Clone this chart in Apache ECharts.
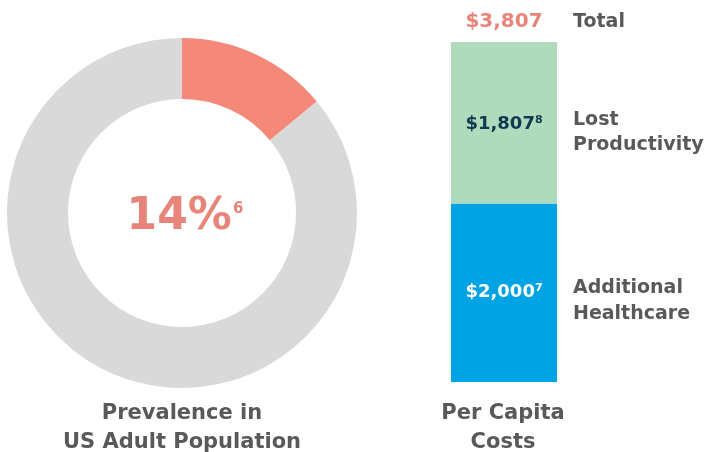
<!DOCTYPE html>
<html>
<head>
<meta charset="utf-8">
<title>Prevalence and Per Capita Costs</title>
<script src="https://cdn.jsdelivr.net/npm/echarts@6/dist/echarts.min.js"></script>
<style>
body{margin:0;background:#fff;}
#chart{width:708px;height:452px;}
</style>
</head>
<body>
<div id="chart"></div>
<script>

// donut
const prevalence = 14
const prevalenceRef = "6"
const prevalenceTitle = "Prevalence in\nUS Adult Population"

// stacked bar, bottom to top
const costNames = ["Additional\nHealthcare", "Lost\nProductivity"]
const costValues = [2000, 1807]
const costRefs = ["7", "8"]
const costTitle = "Per Capita\nCosts"
const totalName = "Total"

const font = "DejaVu Sans"
const grey = "#58595b"
const pink = "#f4897a"
const pinkText = "#e8857a"

const total = costValues.reduce((a,b)=>a+b,0)
const fmt = v => "$" + v.toLocaleString("en-US")

const chart = echarts.init(document.getElementById("chart"))

chart.setOption({
  animation:false,
  textStyle:{fontFamily:font},
  grid:{left:451,width:106,top:42,bottom:70},
  xAxis:{type:"category",data:["cost"],show:false},
  yAxis:{type:"value",min:0,max:total,show:false},
  series:[
    {
      type:"pie",
      center:[182,213],
      radius:[114,175],
      startAngle:90,
      clockwise:true,
      silent:true,
      label:{show:false},
      data:[
        {value:prevalence,itemStyle:{color:pink}},
        {value:100-prevalence,itemStyle:{color:"#d9d9d9"}}
      ]
    },
    {
      type:"bar",
      stack:"cost",
      barWidth:"100%",
      data:[costValues[0]],
      itemStyle:{color:"#00a3e4"},
      label:{
        show:true,position:"inside",
        formatter:fmt(costValues[0]) + "{s|" + costRefs[0] + "}",
        color:"#fff",fontSize:18,fontWeight:"bold",fontFamily:font,
        rich:{s:{fontSize:11,fontWeight:"bold",color:"#fff",verticalAlign:"top",padding:[0,0,9,0],fontFamily:font}}
      }
    },
    {
      type:"bar",
      stack:"cost",
      barWidth:"100%",
      data:[costValues[1]],
      itemStyle:{color:"#b0dabc"},
      label:{
        show:true,position:"inside",offset:[0,2],
        formatter:fmt(costValues[1]) + "{s|" + costRefs[1] + "}",
        color:"#0d3a50",fontSize:18,fontWeight:"bold",fontFamily:font,
        rich:{s:{fontSize:11,fontWeight:"bold",color:"#0d3a50",verticalAlign:"top",padding:[0,0,9,0],fontFamily:font}}
      }
    }
  ],
  graphic:[
    {
      type:"text",x:185,y:218,
      style:{
        text:"{b|" + prevalence + "%}{s|" + prevalenceRef + "}",
        align:"center",verticalAlign:"middle",
        rich:{
          b:{fontSize:44,lineHeight:46,fontWeight:"bold",fill:pinkText,fontFamily:font},
          s:{fontSize:15,lineHeight:15,fontWeight:"bold",fill:pinkText,fontFamily:font,verticalAlign:"top",padding:[7,0,0,1]}
        }
      }
    },
    {
      type:"text",x:504,y:22,
      style:{text:fmt(total),align:"center",verticalAlign:"middle",
        fontSize:20,fontWeight:"bold",fill:pinkText,fontFamily:font}
    },
    {
      type:"text",x:573,y:22,
      style:{text:totalName,verticalAlign:"middle",
        fontSize:19,fontWeight:"bold",fill:grey,fontFamily:font}
    },
    {
      type:"text",x:573,y:133,
      style:{text:costNames[1],verticalAlign:"middle",lineHeight:25,
        fontSize:19,fontWeight:"bold",fill:grey,fontFamily:font}
    },
    {
      type:"text",x:573,y:301,
      style:{text:costNames[0],verticalAlign:"middle",lineHeight:26,
        fontSize:19,fontWeight:"bold",fill:grey,fontFamily:font}
    },
    {
      type:"text",x:182,y:428,
      style:{text:prevalenceTitle,align:"center",verticalAlign:"middle",lineHeight:29,
        fontSize:21,fontWeight:"bold",fill:grey,fontFamily:font}
    },
    {
      type:"text",x:503,y:428,
      style:{text:costTitle,align:"center",verticalAlign:"middle",lineHeight:29,
        fontSize:21,fontWeight:"bold",fill:grey,fontFamily:font}
    }
  ]
})

</script>
</body>
</html>
